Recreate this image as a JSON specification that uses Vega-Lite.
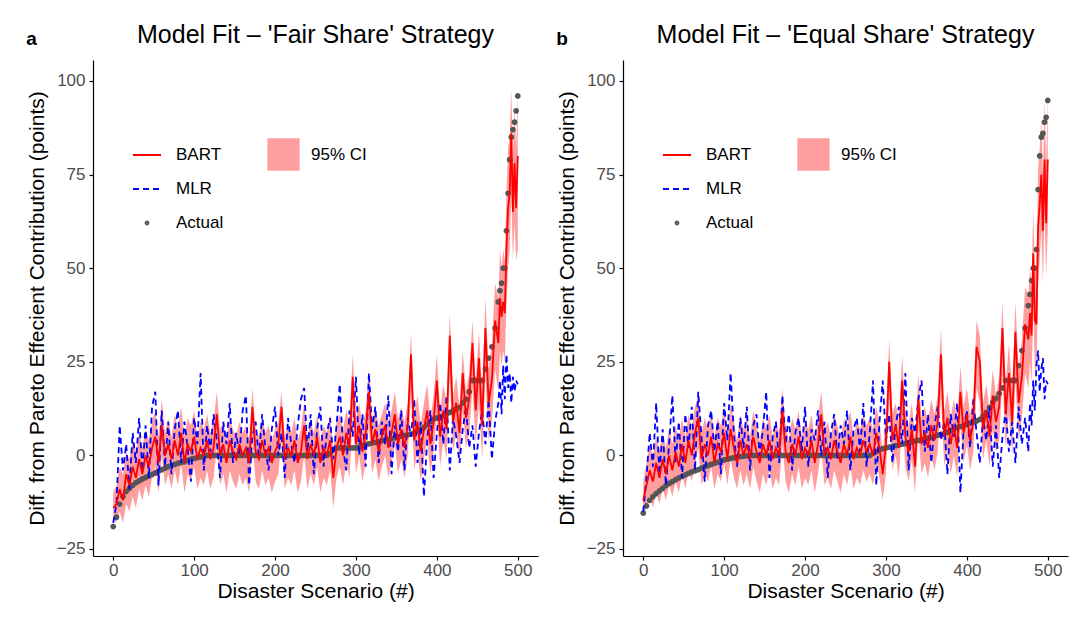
{
  "$schema": "https://vega.github.io/schema/vega-lite/v6.json",
  "padding": {"left": 26, "top": 23, "right": 4, "bottom": 4},
  "spacing": 18,
  "resolve": {
    "scale": {"color": "independent", "shape": "independent", "strokeDash": "independent", "fill": "independent"},
    "legend": {"color": "independent", "shape": "independent", "strokeDash": "independent", "fill": "independent"}
  },
  "config": {
    "font": "Liberation Sans",
    "view": {"stroke": null},
    "axis": {"domainColor": "black", "domainWidth": 1.2, "tickColor": "black", "tickSize": 4, "tickWidth": 1.2, "labelColor": "#4d4d4d", "labelFontSize": 17, "titleFontSize": 21, "titleFontWeight": "normal", "titleColor": "black", "grid": false},
    "title": {"fontSize": 25, "fontWeight": "normal", "color": "black"},
    "legend": {"labelFontSize": 17, "labelColor": "black", "labelFont": "Liberation Sans"}
  },
  "datasets": {
    "fair": [
      {"scenario":0,"actual":-19,"bart":-14,"lo":-17,"hi":-10,"mlr":-18},
      {"scenario":4,"actual":-16.5,"bart":-13,"lo":-18,"hi":-8,"mlr":-13},
      {"scenario":8,"actual":-13,"bart":-9,"lo":-15,"hi":-3,"mlr":8},
      {"scenario":12,"actual":-11,"bart":-12,"lo":-18,"hi":-5,"mlr":-4},
      {"scenario":16,"actual":-9.6,"bart":-5,"lo":-13,"hi":1,"mlr":3},
      {"scenario":20,"actual":-8.8,"bart":-8,"lo":-15,"hi":-1,"mlr":-9},
      {"scenario":24,"actual":-8,"bart":-3,"lo":-11,"hi":4,"mlr":6},
      {"scenario":28,"actual":-7.3,"bart":-6,"lo":-14,"hi":1,"mlr":-2},
      {"scenario":32,"actual":-6.8,"bart":-1,"lo":-9,"hi":6,"mlr":10},
      {"scenario":36,"actual":-6.3,"bart":-5,"lo":-12,"hi":2,"mlr":-4},
      {"scenario":40,"actual":-5.9,"bart":0,"lo":-8,"hi":7,"mlr":8},
      {"scenario":44,"actual":-5.5,"bart":-3,"lo":-11,"hi":4,"mlr":-6},
      {"scenario":48,"actual":-5.1,"bart":2,"lo":-6,"hi":9,"mlr":13},
      {"scenario":52,"actual":-4.7,"bart":5,"lo":-3,"hi":12,"mlr":17},
      {"scenario":56,"actual":-4.2,"bart":-2,"lo":-10,"hi":5,"mlr":-8},
      {"scenario":60,"actual":-3.8,"bart":8,"lo":0,"hi":15,"mlr":12},
      {"scenario":64,"actual":-3.4,"bart":0,"lo":-8,"hi":6,"mlr":-3},
      {"scenario":68,"actual":-3,"bart":3,"lo":-5,"hi":10,"mlr":9},
      {"scenario":72,"actual":-2.7,"bart":-1,"lo":-9,"hi":5,"mlr":-5},
      {"scenario":76,"actual":-2.4,"bart":4,"lo":-4,"hi":11,"mlr":7},
      {"scenario":80,"actual":-2.1,"bart":0,"lo":-8,"hi":7,"mlr":12},
      {"scenario":84,"actual":-1.9,"bart":6,"lo":-2,"hi":13,"mlr":-2},
      {"scenario":88,"actual":-1.7,"bart":-2,"lo":-10,"hi":5,"mlr":9},
      {"scenario":92,"actual":-1.3,"bart":3,"lo":-5,"hi":10,"mlr":2},
      {"scenario":96,"actual":-1,"bart":1,"lo":-7,"hi":8,"mlr":-7},
      {"scenario":100,"actual":-0.8,"bart":5,"lo":-3,"hi":12,"mlr":10},
      {"scenario":104,"actual":-0.6,"bart":-1,"lo":-9,"hi":5,"mlr":3},
      {"scenario":108,"actual":-0.4,"bart":2,"lo":-6,"hi":9,"mlr":22},
      {"scenario":112,"actual":-0.2,"bart":0,"lo":-8,"hi":7,"mlr":-4},
      {"scenario":116,"actual":0,"bart":4,"lo":-4,"hi":11,"mlr":8},
      {"scenario":120,"actual":0,"bart":-1,"lo":-9,"hi":6,"mlr":1},
      {"scenario":124,"actual":0,"bart":2,"lo":-6,"hi":9,"mlr":11},
      {"scenario":128,"actual":0,"bart":11,"lo":2,"hi":17,"mlr":4},
      {"scenario":132,"actual":0,"bart":0,"lo":-8,"hi":7,"mlr":-6},
      {"scenario":136,"actual":0,"bart":3,"lo":-5,"hi":9,"mlr":9},
      {"scenario":140,"actual":0,"bart":-2,"lo":-10,"hi":4,"mlr":3},
      {"scenario":144,"actual":0,"bart":4,"lo":-4,"hi":10,"mlr":14},
      {"scenario":148,"actual":0,"bart":1,"lo":-7,"hi":7,"mlr":-2},
      {"scenario":152,"actual":0,"bart":-1,"lo":-9,"hi":5,"mlr":6},
      {"scenario":156,"actual":0,"bart":3,"lo":-5,"hi":9,"mlr":0},
      {"scenario":160,"actual":0,"bart":0,"lo":-8,"hi":6,"mlr":12},
      {"scenario":164,"actual":0,"bart":2,"lo":-6,"hi":8,"mlr":16},
      {"scenario":168,"actual":0,"bart":-2,"lo":-10,"hi":4,"mlr":-8},
      {"scenario":172,"actual":0,"bart":13,"lo":4,"hi":18,"mlr":5},
      {"scenario":176,"actual":0,"bart":1,"lo":-7,"hi":7,"mlr":9},
      {"scenario":180,"actual":0,"bart":-1,"lo":-9,"hi":5,"mlr":-1},
      {"scenario":184,"actual":0,"bart":4,"lo":-4,"hi":10,"mlr":11},
      {"scenario":188,"actual":0,"bart":0,"lo":-8,"hi":6,"mlr":2},
      {"scenario":192,"actual":0,"bart":2,"lo":-6,"hi":8,"mlr":-4},
      {"scenario":196,"actual":0,"bart":-2,"lo":-10,"hi":4,"mlr":7},
      {"scenario":200,"actual":0,"bart":1,"lo":-7,"hi":7,"mlr":13},
      {"scenario":204,"actual":0,"bart":3,"lo":-5,"hi":9,"mlr":0},
      {"scenario":208,"actual":0,"bart":13,"lo":4,"hi":17,"mlr":6},
      {"scenario":212,"actual":0,"bart":-1,"lo":-9,"hi":5,"mlr":-6},
      {"scenario":216,"actual":0,"bart":2,"lo":-6,"hi":8,"mlr":10},
      {"scenario":220,"actual":0,"bart":0,"lo":-8,"hi":6,"mlr":3},
      {"scenario":224,"actual":0,"bart":4,"lo":-4,"hi":10,"mlr":-2},
      {"scenario":228,"actual":0,"bart":-2,"lo":-10,"hi":4,"mlr":8},
      {"scenario":232,"actual":0,"bart":1,"lo":-7,"hi":7,"mlr":15},
      {"scenario":236,"actual":0,"bart":8,"lo":0,"hi":14,"mlr":18},
      {"scenario":240,"actual":0,"bart":-1,"lo":-9,"hi":5,"mlr":1},
      {"scenario":244,"actual":0,"bart":3,"lo":-5,"hi":9,"mlr":11},
      {"scenario":248,"actual":0,"bart":0,"lo":-8,"hi":6,"mlr":-5},
      {"scenario":252,"actual":0,"bart":5,"lo":-3,"hi":11,"mlr":7},
      {"scenario":256,"actual":0,"bart":-2,"lo":-10,"hi":4,"mlr":13},
      {"scenario":260,"actual":0,"bart":2,"lo":-6,"hi":8,"mlr":-3},
      {"scenario":264,"actual":0,"bart":0,"lo":-8,"hi":6,"mlr":6},
      {"scenario":268,"actual":0.5,"bart":4,"lo":-4,"hi":11,"mlr":10},
      {"scenario":272,"actual":1.5,"bart":-6,"lo":-14,"hi":1,"mlr":-1},
      {"scenario":276,"actual":2,"bart":2,"lo":-6,"hi":9,"mlr":8},
      {"scenario":280,"actual":2,"bart":5,"lo":-3,"hi":11,"mlr":19},
      {"scenario":284,"actual":2,"bart":0,"lo":-8,"hi":7,"mlr":2},
      {"scenario":288,"actual":2,"bart":6,"lo":-2,"hi":12,"mlr":-4},
      {"scenario":292,"actual":2,"bart":2,"lo":-6,"hi":9,"mlr":12},
      {"scenario":296,"actual":2,"bart":21,"lo":11,"hi":27,"mlr":5},
      {"scenario":300,"actual":2,"bart":3,"lo":-5,"hi":10,"mlr":21},
      {"scenario":304,"actual":2.3,"bart":8,"lo":0,"hi":14,"mlr":0},
      {"scenario":308,"actual":2.6,"bart":1,"lo":-7,"hi":8,"mlr":11},
      {"scenario":312,"actual":2.9,"bart":6,"lo":-2,"hi":12,"mlr":-3},
      {"scenario":316,"actual":3.1,"bart":17,"lo":8,"hi":23,"mlr":22},
      {"scenario":320,"actual":3.3,"bart":3,"lo":-5,"hi":9,"mlr":7},
      {"scenario":324,"actual":3.5,"bart":7,"lo":-1,"hi":13,"mlr":13},
      {"scenario":328,"actual":3.7,"bart":1,"lo":-7,"hi":8,"mlr":-2},
      {"scenario":332,"actual":3.9,"bart":5,"lo":-3,"hi":11,"mlr":9},
      {"scenario":336,"actual":4.1,"bart":8,"lo":0,"hi":14,"mlr":3},
      {"scenario":340,"actual":4.3,"bart":2,"lo":-6,"hi":9,"mlr":16},
      {"scenario":344,"actual":4.5,"bart":6,"lo":-2,"hi":12,"mlr":-5},
      {"scenario":348,"actual":4.7,"bart":11,"lo":3,"hi":17,"mlr":8},
      {"scenario":352,"actual":4.9,"bart":3,"lo":-5,"hi":10,"mlr":1},
      {"scenario":356,"actual":5.1,"bart":7,"lo":-1,"hi":13,"mlr":12},
      {"scenario":360,"actual":5.3,"bart":2,"lo":-6,"hi":9,"mlr":-4},
      {"scenario":364,"actual":5.5,"bart":8,"lo":0,"hi":14,"mlr":10},
      {"scenario":368,"actual":5.7,"bart":27,"lo":16,"hi":33,"mlr":5},
      {"scenario":372,"actual":6,"bart":4,"lo":-4,"hi":11,"mlr":15},
      {"scenario":376,"actual":6.5,"bart":9,"lo":1,"hi":16,"mlr":-2},
      {"scenario":380,"actual":7,"bart":1,"lo":-7,"hi":8,"mlr":9},
      {"scenario":384,"actual":7.5,"bart":7,"lo":-1,"hi":14,"mlr":-11},
      {"scenario":388,"actual":8.3,"bart":12,"lo":4,"hi":19,"mlr":4},
      {"scenario":392,"actual":9,"bart":3,"lo":-5,"hi":10,"mlr":12},
      {"scenario":396,"actual":9.7,"bart":9,"lo":1,"hi":16,"mlr":-6},
      {"scenario":400,"actual":10,"bart":20,"lo":11,"hi":27,"mlr":6},
      {"scenario":404,"actual":10.3,"bart":5,"lo":-3,"hi":12,"mlr":14},
      {"scenario":408,"actual":10.6,"bart":12,"lo":4,"hi":19,"mlr":3},
      {"scenario":412,"actual":11,"bart":7,"lo":-1,"hi":14,"mlr":16},
      {"scenario":416,"actual":11.5,"bart":32,"lo":21,"hi":38,"mlr":-4},
      {"scenario":420,"actual":12,"bart":9,"lo":1,"hi":16,"mlr":10},
      {"scenario":424,"actual":12.4,"bart":14,"lo":6,"hi":21,"mlr":5},
      {"scenario":428,"actual":12.8,"bart":6,"lo":-2,"hi":13,"mlr":-2},
      {"scenario":432,"actual":14,"bart":22,"lo":12,"hi":28,"mlr":7},
      {"scenario":436,"actual":15,"bart":10,"lo":2,"hi":17,"mlr":13},
      {"scenario":440,"actual":17,"bart":15,"lo":6,"hi":22,"mlr":2},
      {"scenario":444,"actual":20,"bart":30,"lo":18,"hi":36,"mlr":8},
      {"scenario":448,"actual":20,"bart":12,"lo":3,"hi":20,"mlr":-3},
      {"scenario":452,"actual":20,"bart":26,"lo":14,"hi":33,"mlr":6},
      {"scenario":456,"actual":20,"bart":8,"lo":-1,"hi":17,"mlr":12},
      {"scenario":460,"actual":23,"bart":34,"lo":21,"hi":42,"mlr":3},
      {"scenario":464,"actual":26,"bart":14,"lo":4,"hi":23,"mlr":15},
      {"scenario":468,"actual":29,"bart":20,"lo":9,"hi":30,"mlr":-1},
      {"scenario":472,"actual":34,"bart":36,"lo":23,"hi":46,"mlr":9},
      {"scenario":476,"actual":41,"bart":30,"lo":17,"hi":42,"mlr":14},
      {"scenario":478,"actual":44,"bart":42,"lo":28,"hi":55,"mlr":20},
      {"scenario":480,"actual":46,"bart":37,"lo":24,"hi":50,"mlr":11},
      {"scenario":482,"actual":50,"bart":41,"lo":28,"hi":55,"mlr":24},
      {"scenario":484,"actual":50,"bart":38,"lo":25,"hi":52,"mlr":15},
      {"scenario":486,"actual":60,"bart":55,"lo":40,"hi":70,"mlr":27},
      {"scenario":488,"actual":70,"bart":66,"lo":50,"hi":82,"mlr":18},
      {"scenario":490,"actual":79,"bart":70,"lo":55,"hi":85,"mlr":22},
      {"scenario":492,"actual":85,"bart":86,"lo":70,"hi":98,"mlr":14},
      {"scenario":494,"actual":87,"bart":65,"lo":52,"hi":80,"mlr":21},
      {"scenario":496,"actual":89,"bart":78,"lo":62,"hi":93,"mlr":17},
      {"scenario":498,"actual":92,"bart":66,"lo":52,"hi":82,"mlr":20},
      {"scenario":500,"actual":96,"bart":80,"lo":55,"hi":97,"mlr":19}
    ],
    "equal": [
      {"scenario":0,"actual":-15.4,"bart":-12,"lo":-16,"hi":-7,"mlr":-15},
      {"scenario":4,"actual":-13.5,"bart":-8,"lo":-14,"hi":-2,"mlr":-6},
      {"scenario":8,"actual":-12,"bart":-4,"lo":-11,"hi":3,"mlr":6},
      {"scenario":12,"actual":-11,"bart":-7,"lo":-14,"hi":0,"mlr":-3},
      {"scenario":16,"actual":-10.2,"bart":-2,"lo":-10,"hi":5,"mlr":14},
      {"scenario":20,"actual":-9.5,"bart":-6,"lo":-13,"hi":1,"mlr":-5},
      {"scenario":24,"actual":-8.8,"bart":-1,"lo":-9,"hi":6,"mlr":7},
      {"scenario":28,"actual":-8.1,"bart":-5,"lo":-12,"hi":2,"mlr":-8},
      {"scenario":32,"actual":-7.5,"bart":0,"lo":-8,"hi":7,"mlr":3},
      {"scenario":36,"actual":-7,"bart":-4,"lo":-11,"hi":3,"mlr":16},
      {"scenario":40,"actual":-6.5,"bart":1,"lo":-7,"hi":8,"mlr":-2},
      {"scenario":44,"actual":-6,"bart":-3,"lo":-10,"hi":4,"mlr":9},
      {"scenario":48,"actual":-5.6,"bart":3,"lo":-5,"hi":10,"mlr":-6},
      {"scenario":52,"actual":-5.2,"bart":-2,"lo":-9,"hi":5,"mlr":11},
      {"scenario":56,"actual":-4.8,"bart":4,"lo":-4,"hi":11,"mlr":2},
      {"scenario":60,"actual":-4.4,"bart":0,"lo":-7,"hi":7,"mlr":13},
      {"scenario":64,"actual":-4.1,"bart":6,"lo":-2,"hi":13,"mlr":-4},
      {"scenario":68,"actual":-3.8,"bart":10,"lo":2,"hi":16,"mlr":17},
      {"scenario":72,"actual":-3.4,"bart":-1,"lo":-8,"hi":6,"mlr":5},
      {"scenario":76,"actual":-3,"bart":3,"lo":-5,"hi":10,"mlr":-7},
      {"scenario":80,"actual":-2.7,"bart":0,"lo":-7,"hi":7,"mlr":8},
      {"scenario":84,"actual":-2.4,"bart":5,"lo":-3,"hi":12,"mlr":12},
      {"scenario":88,"actual":-2.1,"bart":-2,"lo":-9,"hi":5,"mlr":1},
      {"scenario":92,"actual":-1.8,"bart":3,"lo":-5,"hi":10,"mlr":9},
      {"scenario":96,"actual":-1.5,"bart":1,"lo":-7,"hi":8,"mlr":-5},
      {"scenario":100,"actual":-1.2,"bart":6,"lo":-2,"hi":13,"mlr":14},
      {"scenario":104,"actual":-1,"bart":-1,"lo":-8,"hi":5,"mlr":4},
      {"scenario":108,"actual":-0.8,"bart":7,"lo":-1,"hi":14,"mlr":22},
      {"scenario":112,"actual":-0.6,"bart":2,"lo":-6,"hi":9,"mlr":6},
      {"scenario":116,"actual":-0.4,"bart":-2,"lo":-9,"hi":4,"mlr":-3},
      {"scenario":120,"actual":-0.3,"bart":4,"lo":-4,"hi":11,"mlr":10},
      {"scenario":124,"actual":-0.2,"bart":0,"lo":-8,"hi":7,"mlr":2},
      {"scenario":128,"actual":-0.1,"bart":3,"lo":-5,"hi":10,"mlr":13},
      {"scenario":132,"actual":0,"bart":-1,"lo":-9,"hi":5,"mlr":-4},
      {"scenario":136,"actual":0,"bart":5,"lo":-3,"hi":12,"mlr":8},
      {"scenario":140,"actual":0,"bart":1,"lo":-7,"hi":8,"mlr":11},
      {"scenario":144,"actual":0,"bart":-2,"lo":-10,"hi":4,"mlr":0},
      {"scenario":148,"actual":0,"bart":3,"lo":-5,"hi":10,"mlr":7},
      {"scenario":152,"actual":0,"bart":0,"lo":-8,"hi":7,"mlr":17},
      {"scenario":156,"actual":0,"bart":4,"lo":-4,"hi":11,"mlr":-6},
      {"scenario":160,"actual":0,"bart":-1,"lo":-9,"hi":5,"mlr":5},
      {"scenario":164,"actual":0,"bart":2,"lo":-6,"hi":9,"mlr":9},
      {"scenario":168,"actual":0,"bart":0,"lo":-8,"hi":6,"mlr":-2},
      {"scenario":172,"actual":0,"bart":12,"lo":3,"hi":18,"mlr":16},
      {"scenario":176,"actual":0,"bart":1,"lo":-7,"hi":8,"mlr":3},
      {"scenario":180,"actual":0,"bart":-2,"lo":-10,"hi":4,"mlr":11},
      {"scenario":184,"actual":0,"bart":3,"lo":-5,"hi":10,"mlr":-4},
      {"scenario":188,"actual":0,"bart":0,"lo":-8,"hi":7,"mlr":6},
      {"scenario":192,"actual":0,"bart":5,"lo":-3,"hi":12,"mlr":10},
      {"scenario":196,"actual":0,"bart":-1,"lo":-9,"hi":5,"mlr":1},
      {"scenario":200,"actual":0,"bart":2,"lo":-6,"hi":9,"mlr":13},
      {"scenario":204,"actual":0,"bart":0,"lo":-8,"hi":7,"mlr":-3},
      {"scenario":208,"actual":0,"bart":4,"lo":-4,"hi":11,"mlr":7},
      {"scenario":212,"actual":0,"bart":-2,"lo":-10,"hi":4,"mlr":4},
      {"scenario":216,"actual":0,"bart":3,"lo":-5,"hi":10,"mlr":12},
      {"scenario":220,"actual":0,"bart":11,"lo":2,"hi":17,"mlr":0},
      {"scenario":224,"actual":0,"bart":0,"lo":-8,"hi":7,"mlr":9},
      {"scenario":228,"actual":0,"bart":2,"lo":-6,"hi":9,"mlr":-6},
      {"scenario":232,"actual":0,"bart":-1,"lo":-9,"hi":5,"mlr":6},
      {"scenario":236,"actual":0,"bart":4,"lo":-4,"hi":11,"mlr":11},
      {"scenario":240,"actual":0,"bart":1,"lo":-7,"hi":8,"mlr":-1},
      {"scenario":244,"actual":0,"bart":-2,"lo":-10,"hi":4,"mlr":8},
      {"scenario":248,"actual":0,"bart":3,"lo":-5,"hi":10,"mlr":3},
      {"scenario":252,"actual":0,"bart":0,"lo":-8,"hi":7,"mlr":12},
      {"scenario":256,"actual":0,"bart":5,"lo":-3,"hi":12,"mlr":-4},
      {"scenario":260,"actual":0,"bart":-1,"lo":-9,"hi":5,"mlr":7},
      {"scenario":264,"actual":0,"bart":2,"lo":-6,"hi":9,"mlr":10},
      {"scenario":268,"actual":0,"bart":0,"lo":-8,"hi":7,"mlr":1},
      {"scenario":272,"actual":0,"bart":4,"lo":-4,"hi":11,"mlr":14},
      {"scenario":276,"actual":0,"bart":1,"lo":-7,"hi":8,"mlr":-3},
      {"scenario":280,"actual":0,"bart":3,"lo":-5,"hi":10,"mlr":6},
      {"scenario":284,"actual":0.5,"bart":0,"lo":-8,"hi":7,"mlr":20},
      {"scenario":288,"actual":1,"bart":6,"lo":-2,"hi":13,"mlr":-8},
      {"scenario":292,"actual":1.5,"bart":2,"lo":-6,"hi":9,"mlr":9},
      {"scenario":296,"actual":1.8,"bart":-5,"lo":-12,"hi":1,"mlr":20},
      {"scenario":300,"actual":2,"bart":3,"lo":-5,"hi":10,"mlr":4},
      {"scenario":304,"actual":2.2,"bart":25,"lo":14,"hi":31,"mlr":11},
      {"scenario":308,"actual":2.4,"bart":4,"lo":-4,"hi":11,"mlr":-2},
      {"scenario":312,"actual":2.6,"bart":8,"lo":0,"hi":14,"mlr":8},
      {"scenario":316,"actual":2.8,"bart":2,"lo":-6,"hi":9,"mlr":13},
      {"scenario":320,"actual":3,"bart":20,"lo":10,"hi":27,"mlr":3},
      {"scenario":324,"actual":3.2,"bart":5,"lo":-3,"hi":12,"mlr":22},
      {"scenario":328,"actual":3.4,"bart":1,"lo":-7,"hi":8,"mlr":-4},
      {"scenario":332,"actual":3.6,"bart":7,"lo":-1,"hi":14,"mlr":10},
      {"scenario":336,"actual":3.8,"bart":-3,"lo":-10,"hi":4,"mlr":6},
      {"scenario":340,"actual":4,"bart":15,"lo":6,"hi":22,"mlr":15},
      {"scenario":344,"actual":4.2,"bart":3,"lo":-5,"hi":10,"mlr":20},
      {"scenario":348,"actual":4.4,"bart":6,"lo":-2,"hi":13,"mlr":1},
      {"scenario":352,"actual":4.6,"bart":2,"lo":-6,"hi":9,"mlr":11},
      {"scenario":356,"actual":4.9,"bart":8,"lo":0,"hi":15,"mlr":-2},
      {"scenario":360,"actual":5.1,"bart":4,"lo":-4,"hi":11,"mlr":8},
      {"scenario":364,"actual":5.4,"bart":9,"lo":1,"hi":16,"mlr":13},
      {"scenario":368,"actual":5.6,"bart":27,"lo":16,"hi":34,"mlr":4},
      {"scenario":372,"actual":5.8,"bart":5,"lo":-3,"hi":12,"mlr":9},
      {"scenario":376,"actual":6.2,"bart":10,"lo":2,"hi":17,"mlr":-5},
      {"scenario":380,"actual":6.6,"bart":3,"lo":-5,"hi":10,"mlr":11},
      {"scenario":384,"actual":7,"bart":8,"lo":0,"hi":15,"mlr":5},
      {"scenario":388,"actual":7.4,"bart":2,"lo":-6,"hi":9,"mlr":14},
      {"scenario":392,"actual":7.7,"bart":17,"lo":8,"hi":24,"mlr":-10},
      {"scenario":396,"actual":8,"bart":6,"lo":-2,"hi":13,"mlr":7},
      {"scenario":400,"actual":8.3,"bart":11,"lo":3,"hi":18,"mlr":12},
      {"scenario":404,"actual":8.6,"bart":4,"lo":-4,"hi":11,"mlr":2},
      {"scenario":408,"actual":8.9,"bart":9,"lo":1,"hi":16,"mlr":15},
      {"scenario":412,"actual":9.2,"bart":29,"lo":18,"hi":36,"mlr":6},
      {"scenario":416,"actual":9.6,"bart":25,"lo":14,"hi":32,"mlr":-2},
      {"scenario":420,"actual":10.5,"bart":7,"lo":-1,"hi":14,"mlr":10},
      {"scenario":424,"actual":11.5,"bart":12,"lo":4,"hi":19,"mlr":4},
      {"scenario":428,"actual":12.8,"bart":5,"lo":-3,"hi":12,"mlr":13},
      {"scenario":432,"actual":14.2,"bart":16,"lo":7,"hi":23,"mlr":-3},
      {"scenario":436,"actual":15.2,"bart":9,"lo":1,"hi":16,"mlr":8},
      {"scenario":440,"actual":16.5,"bart":13,"lo":4,"hi":21,"mlr":-6},
      {"scenario":444,"actual":18,"bart":34,"lo":21,"hi":41,"mlr":5},
      {"scenario":448,"actual":20,"bart":11,"lo":2,"hi":19,"mlr":12},
      {"scenario":452,"actual":20,"bart":22,"lo":11,"hi":30,"mlr":1},
      {"scenario":456,"actual":20,"bart":9,"lo":0,"hi":17,"mlr":9},
      {"scenario":460,"actual":20,"bart":33,"lo":20,"hi":41,"mlr":-2},
      {"scenario":464,"actual":24,"bart":14,"lo":4,"hi":23,"mlr":13},
      {"scenario":468,"actual":28,"bart":21,"lo":10,"hi":31,"mlr":3},
      {"scenario":472,"actual":34,"bart":35,"lo":22,"hi":45,"mlr":10},
      {"scenario":476,"actual":40,"bart":31,"lo":18,"hi":43,"mlr":1},
      {"scenario":478,"actual":43,"bart":38,"lo":25,"hi":50,"mlr":14},
      {"scenario":480,"actual":46.7,"bart":32,"lo":19,"hi":45,"mlr":8},
      {"scenario":482,"actual":50,"bart":54,"lo":40,"hi":66,"mlr":20},
      {"scenario":484,"actual":50,"bart":36,"lo":23,"hi":50,"mlr":12},
      {"scenario":486,"actual":55,"bart":35,"lo":22,"hi":49,"mlr":24},
      {"scenario":488,"actual":71,"bart":61,"lo":45,"hi":76,"mlr":28},
      {"scenario":490,"actual":80,"bart":67,"lo":52,"hi":82,"mlr":17},
      {"scenario":492,"actual":85,"bart":75,"lo":60,"hi":90,"mlr":23},
      {"scenario":494,"actual":86,"bart":60,"lo":46,"hi":75,"mlr":26},
      {"scenario":496,"actual":89,"bart":79,"lo":64,"hi":95,"mlr":15},
      {"scenario":498,"actual":90.3,"bart":62,"lo":48,"hi":78,"mlr":20},
      {"scenario":500,"actual":94.8,"bart":79,"lo":60,"hi":96,"mlr":19}
    ]
  },
  "hconcat": [
    {
      "title": {"text": "a", "anchor": "start", "fontSize": 19, "fontWeight": "bold", "offset": -26},
      "vconcat": [
        {
          "title": {"text": "Model Fit – 'Fair Share' Strategy", "frame": "group", "anchor": "middle", "offset": 12},
          "width": 445,
          "height": 496,
          "data": {"name": "fair"},
          "encoding": {
            "x": {"field": "scenario", "type": "quantitative", "title": "Disaster Scenario (#)", "scale": {"domain": [-25, 525], "nice": false, "zero": false}, "axis": {"values": [0, 100, 200, 300, 400, 500], "labelPadding": 2, "titlePadding": 2}}
          },
          "layer": [
            {
              "mark": {"type": "area"},
              "encoding": {
                "y": {"field": "lo", "type": "quantitative", "title": "Diff. from Pareto Effecient Contribution (points)", "scale": {"domain": [-26.87, 105.6], "nice": false, "zero": false}, "axis": {"values": [-25, 0, 25, 50, 75, 100], "labelPadding": 4, "titlePadding": 9}},
                "y2": {"field": "hi"},
                "fill": {"datum": "95% CI", "type": "nominal", "scale": {"domain": ["95% CI"], "range": ["#ff9e9e"]}, "legend": {"orient": "none", "legendX": 174, "legendY": 78, "title": null, "symbolType": "square", "symbolSize": 1043, "symbolStrokeWidth": 0, "labelOffset": 11}}
              }
            },
            {
              "mark": {"type": "point", "filled": false, "opacity": 1, "strokeWidth": 3, "size": 784},
              "encoding": {
                "y": {"field": "actual", "type": "quantitative", "title": "Diff. from Pareto Effecient Contribution (points)"},
                "color": {"datum": "Actual", "type": "nominal", "scale": {"domain": ["BART", "MLR", "Actual"], "range": ["#ff0000", "#0000ff", "#555555"]}, "legend": {"orient": "none", "legendX": 39, "legendY": 80, "title": null, "symbolSize": 784, "symbolStrokeWidth": 2, "labelOffset": 14, "rowPadding": 11}},
                "shape": {"datum": "Actual", "type": "nominal", "scale": {"domain": ["BART", "MLR", "Actual"], "range": ["stroke", "stroke", "M-0.1,0A0.1,0.1,0,1,1,0.1,0A0.1,0.1,0,1,1,-0.1,0Z"]}, "legend": {"orient": "none", "legendX": 39, "legendY": 80, "title": null, "symbolSize": 784, "symbolStrokeWidth": 2, "labelOffset": 14, "rowPadding": 11}}
              }
            },
            {
              "mark": {"type": "line", "strokeWidth": 1.8},
              "encoding": {
                "y": {"field": "mlr", "type": "quantitative", "title": "Diff. from Pareto Effecient Contribution (points)"},
                "color": {"datum": "MLR", "type": "nominal", "scale": {"domain": ["BART", "MLR", "Actual"], "range": ["#ff0000", "#0000ff", "#555555"]}, "legend": {"orient": "none", "legendX": 39, "legendY": 80, "title": null, "symbolSize": 784, "symbolStrokeWidth": 2, "labelOffset": 14, "rowPadding": 11}},
                "strokeDash": {"datum": "MLR", "type": "nominal", "scale": {"domain": ["BART", "MLR", "Actual"], "range": [[1, 0], [6, 4], [1, 0]]}, "legend": {"orient": "none", "legendX": 39, "legendY": 80, "title": null, "symbolSize": 784, "symbolStrokeWidth": 2, "labelOffset": 14, "rowPadding": 11}}
              }
            },
            {
              "mark": {"type": "line", "strokeWidth": 1.8},
              "encoding": {
                "y": {"field": "bart", "type": "quantitative", "title": "Diff. from Pareto Effecient Contribution (points)"},
                "color": {"datum": "BART", "type": "nominal", "scale": {"domain": ["BART", "MLR", "Actual"], "range": ["#ff0000", "#0000ff", "#555555"]}, "legend": {"orient": "none", "legendX": 39, "legendY": 80, "title": null, "symbolSize": 784, "symbolStrokeWidth": 2, "labelOffset": 14, "rowPadding": 11}},
                "strokeDash": {"datum": "BART", "type": "nominal", "scale": {"domain": ["BART", "MLR", "Actual"], "range": [[1, 0], [6, 4], [1, 0]]}, "legend": {"orient": "none", "legendX": 39, "legendY": 80, "title": null, "symbolSize": 784, "symbolStrokeWidth": 2, "labelOffset": 14, "rowPadding": 11}}
              }
            }
          ]
        }
      ]
    },
    {
      "title": {"text": "b", "anchor": "start", "fontSize": 19, "fontWeight": "bold", "offset": -26},
      "vconcat": [
        {
          "title": {"text": "Model Fit – 'Equal Share' Strategy", "frame": "group", "anchor": "middle", "offset": 12},
          "width": 445,
          "height": 496,
          "data": {"name": "equal"},
          "encoding": {
            "x": {"field": "scenario", "type": "quantitative", "title": "Disaster Scenario (#)", "scale": {"domain": [-25, 525], "nice": false, "zero": false}, "axis": {"values": [0, 100, 200, 300, 400, 500], "labelPadding": 2, "titlePadding": 2}}
          },
          "layer": [
            {
              "mark": {"type": "area"},
              "encoding": {
                "y": {"field": "lo", "type": "quantitative", "title": "Diff. from Pareto Effecient Contribution (points)", "scale": {"domain": [-26.87, 105.6], "nice": false, "zero": false}, "axis": {"values": [-25, 0, 25, 50, 75, 100], "labelPadding": 4, "titlePadding": 9}},
                "y2": {"field": "hi"},
                "fill": {"datum": "95% CI", "type": "nominal", "scale": {"domain": ["95% CI"], "range": ["#ff9e9e"]}, "legend": {"orient": "none", "legendX": 174, "legendY": 78, "title": null, "symbolType": "square", "symbolSize": 1043, "symbolStrokeWidth": 0, "labelOffset": 11}}
              }
            },
            {
              "mark": {"type": "point", "filled": false, "opacity": 1, "strokeWidth": 3, "size": 784},
              "encoding": {
                "y": {"field": "actual", "type": "quantitative", "title": "Diff. from Pareto Effecient Contribution (points)"},
                "color": {"datum": "Actual", "type": "nominal", "scale": {"domain": ["BART", "MLR", "Actual"], "range": ["#ff0000", "#0000ff", "#555555"]}, "legend": {"orient": "none", "legendX": 39, "legendY": 80, "title": null, "symbolSize": 784, "symbolStrokeWidth": 2, "labelOffset": 14, "rowPadding": 11}},
                "shape": {"datum": "Actual", "type": "nominal", "scale": {"domain": ["BART", "MLR", "Actual"], "range": ["stroke", "stroke", "M-0.1,0A0.1,0.1,0,1,1,0.1,0A0.1,0.1,0,1,1,-0.1,0Z"]}, "legend": {"orient": "none", "legendX": 39, "legendY": 80, "title": null, "symbolSize": 784, "symbolStrokeWidth": 2, "labelOffset": 14, "rowPadding": 11}}
              }
            },
            {
              "mark": {"type": "line", "strokeWidth": 1.8},
              "encoding": {
                "y": {"field": "mlr", "type": "quantitative", "title": "Diff. from Pareto Effecient Contribution (points)"},
                "color": {"datum": "MLR", "type": "nominal", "scale": {"domain": ["BART", "MLR", "Actual"], "range": ["#ff0000", "#0000ff", "#555555"]}, "legend": {"orient": "none", "legendX": 39, "legendY": 80, "title": null, "symbolSize": 784, "symbolStrokeWidth": 2, "labelOffset": 14, "rowPadding": 11}},
                "strokeDash": {"datum": "MLR", "type": "nominal", "scale": {"domain": ["BART", "MLR", "Actual"], "range": [[1, 0], [6, 4], [1, 0]]}, "legend": {"orient": "none", "legendX": 39, "legendY": 80, "title": null, "symbolSize": 784, "symbolStrokeWidth": 2, "labelOffset": 14, "rowPadding": 11}}
              }
            },
            {
              "mark": {"type": "line", "strokeWidth": 1.8},
              "encoding": {
                "y": {"field": "bart", "type": "quantitative", "title": "Diff. from Pareto Effecient Contribution (points)"},
                "color": {"datum": "BART", "type": "nominal", "scale": {"domain": ["BART", "MLR", "Actual"], "range": ["#ff0000", "#0000ff", "#555555"]}, "legend": {"orient": "none", "legendX": 39, "legendY": 80, "title": null, "symbolSize": 784, "symbolStrokeWidth": 2, "labelOffset": 14, "rowPadding": 11}},
                "strokeDash": {"datum": "BART", "type": "nominal", "scale": {"domain": ["BART", "MLR", "Actual"], "range": [[1, 0], [6, 4], [1, 0]]}, "legend": {"orient": "none", "legendX": 39, "legendY": 80, "title": null, "symbolSize": 784, "symbolStrokeWidth": 2, "labelOffset": 14, "rowPadding": 11}}
              }
            }
          ]
        }
      ]
    }
  ]
}
